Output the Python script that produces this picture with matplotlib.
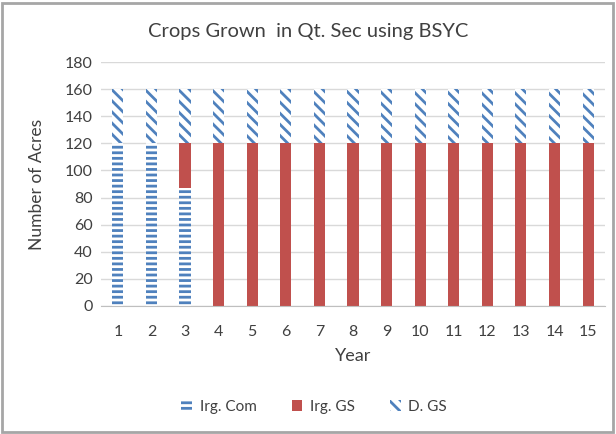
import numpy as np
import matplotlib.pyplot as plt
from matplotlib.patches import Rectangle

plt.rcParams['font.family'] = ['Lato', 'DejaVu Sans']
plt.rcParams['hatch.linewidth'] = 2.0

years = np.arange(1, 16)
irg_com = [120, 120, 87, 0, 0, 0, 0, 0, 0, 0, 0, 0, 0, 0, 0]
irg_gs = [0, 0, 33, 120, 120, 120, 120, 120, 120, 120, 120, 120, 120, 120, 120]
d_gs = [40] * 15

blue = '#4F81BD'
red = '#C0504D'
text_col = '#404040'

fig = plt.figure(figsize=(6.16, 4.34), dpi=100)
ax = fig.add_axes([0.164, 0.295, 0.818, 0.562])

w = 0.33
plt.rcParams['hatch.color'] = blue
ax.bar(years, irg_com, w, color='white', edgecolor=blue, linewidth=0,
       hatch='---', label='Irg. Com')
ax.bar(years, irg_gs, w, bottom=irg_com, color=red, linewidth=0,
       label='Irg. GS')
base = np.array(irg_com) + np.array(irg_gs)
ax.bar(years, d_gs, w, bottom=base, color='white', edgecolor=blue,
       linewidth=0, hatch='\\\\\\', label='D. GS')

ax.set_xlim(0.5, 15.5)
ax.set_ylim(0, 180)
ax.set_yticks(range(0, 181, 20))
ax.set_xticks(years)
ax.grid(axis='y', color='#D9D9D9', linewidth=1)
ax.set_axisbelow(True)
for s in ['top', 'right', 'left']:
    ax.spines[s].set_visible(False)
ax.spines['bottom'].set_color('#BFBFBF')
ax.tick_params(length=0, labelsize=11.5, labelcolor=text_col)
ax.tick_params(axis='y', pad=6)
ax.tick_params(axis='x', pad=14)

ax.set_xlabel('Year', fontsize=13, color=text_col, labelpad=6)
ax.set_ylabel('Number of Acres', fontsize=12.5, color=text_col, labelpad=14)
fig.text(0.5, 0.928, 'Crops Grown  in Qt. Sec using BSYC', ha='center',
         va='center', fontsize=14.5, color=text_col)

fig.legend(loc='center', bbox_to_anchor=(0.51, 0.062), ncol=3, frameon=False,
           fontsize=11, labelcolor=text_col, handlelength=0.7,
           handleheight=0.7, handletextpad=0.5, columnspacing=2.3)

# thin frame round the whole chart
fig.patches.append(Rectangle((0.003, 0.004), 0.992, 0.99, transform=fig.transFigure,
                             fill=False, edgecolor='#A6A6A6', linewidth=2))

fig.savefig('out.png', dpi=100)
